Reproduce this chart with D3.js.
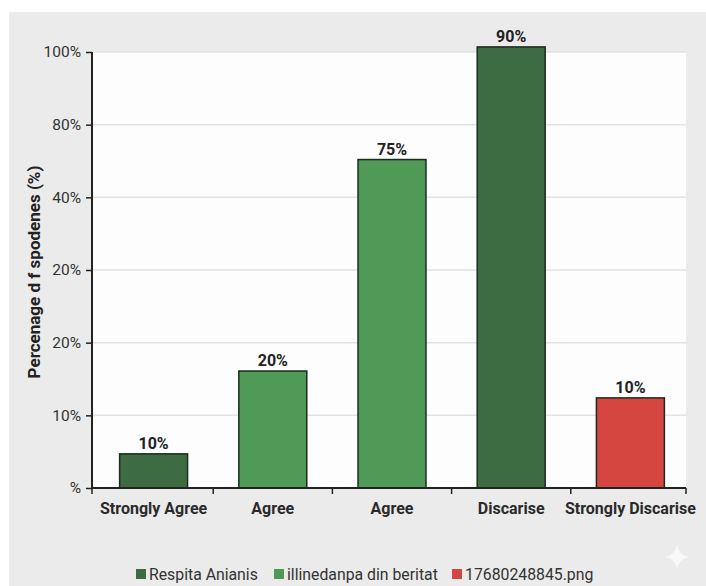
<!DOCTYPE html>
<html>
<head>
<meta charset="utf-8">
<script src="https://cdn.jsdelivr.net/npm/d3@7"></script>
<style>
  html, body { margin: 0; padding: 0; background: #ffffff; }
  svg { display: block; }
  text { font-family: Roboto, "Noto Sans", sans-serif; }
</style>
</head>
<body>
<svg id="chart" width="706" height="586"></svg>
<script>
// ---- data ----
const categories = ["Strongly Agree", "Agree", "Agree", "Discarise", "Strongly Discarise"];
// bar heights measured in axis-tick units (the axis ticks are evenly spaced)
const barValues = [0.47, 1.61, 4.52, 6.07, 1.24];
const barLabels = ["10%", "20%", "75%", "90%", "10%"];
const barSeries = [0, 1, 1, 0, 2];
const yTickLabels = ["%", "10%", "20%", "20%", "40%", "80%", "100%"];
const seriesNames = ["Respita Anianis", "illinedanpa din beritat", "17680248845.png"];
const seriesColors = ["#3d6c42", "#4f9a57", "#d4463f"];
const yAxisTitle = "Percenage d f spodenes (%)";

const svg = d3.select("#chart");
const W = 706, H = 586;

// background panels
svg.append("rect").attr("x", 0).attr("y", 0).attr("width", W).attr("height", H).attr("fill", "#ffffff");
svg.append("rect").attr("x", 9).attr("y", 12).attr("width", W - 9).attr("height", H - 12).attr("fill", "#ebebeb");

const plot = { left: 92, right: 686, top: 52, bottom: 488 };
svg.append("rect").attr("x", plot.left).attr("y", plot.top)
  .attr("width", plot.right - plot.left).attr("height", plot.bottom - plot.top)
  .attr("fill", "#fdfdfd");

const y = d3.scaleLinear().domain([0, yTickLabels.length - 1]).range([plot.bottom, plot.top]);
const x = d3.scaleBand().domain(d3.range(categories.length)).range([94, 690]).paddingInner(0.43).paddingOuter(0.215);

// gridlines
svg.append("g").selectAll("line").data(d3.range(1, yTickLabels.length)).join("line")
  .attr("x1", plot.left).attr("x2", plot.right)
  .attr("y1", d => y(d)).attr("y2", d => y(d))
  .attr("stroke", "#e2e2e2").attr("stroke-width", 1.5);

// y axis
const yAxis = d3.axisLeft(y).tickValues(d3.range(yTickLabels.length))
  .tickFormat(d => yTickLabels[d]).tickSize(6).tickPadding(5);
const gy = svg.append("g").attr("transform", `translate(${plot.left},0)`).call(yAxis);
gy.attr("font-size", null).attr("font-family", null);
gy.select(".domain").attr("stroke", "#222").attr("stroke-width", 2).attr("d", `M0,${plot.top}V${plot.bottom}`);
gy.selectAll(".tick line").attr("stroke", "#222").attr("stroke-width", 1.5);
gy.selectAll(".tick text").attr("fill", "#333")
  .style("font-size", "15.5px")
  .style("font-family", "Roboto, sans-serif");

// bars
svg.append("g").selectAll("rect").data(barValues).join("rect")
  .attr("x", (d, i) => x(i))
  .attr("y", d => y(d))
  .attr("width", x.bandwidth())
  .attr("height", d => y(0) - y(d))
  .attr("fill", (d, i) => seriesColors[barSeries[i]])
  .attr("stroke", "#1e2a1f").attr("stroke-width", 1.5);

// value labels
svg.append("g").selectAll("text").data(barValues).join("text")
  .attr("x", (d, i) => x(i) + x.bandwidth() / 2)
  .attr("y", d => y(d) - 5)
  .attr("text-anchor", "middle")
  .style("font-size", "16px").attr("font-weight", "bold").attr("fill", "#222")
  .text((d, i) => barLabels[i]);

// x axis
const xAxisG = svg.append("g").attr("transform", `translate(0,${plot.bottom})`);
xAxisG.append("line").attr("x1", plot.left).attr("x2", 686).attr("y1", 0).attr("y2", 0)
  .attr("stroke", "#222").attr("stroke-width", 2);
const boundaries = [plot.left, ...d3.range(1, categories.length).map(i => x(i) - x.step() * x.paddingInner() / 2), 686];
xAxisG.selectAll("line.tk").data(boundaries).join("line").attr("class", "tk")
  .attr("x1", d => d).attr("x2", d => d).attr("y1", 0).attr("y2", 6)
  .attr("stroke", "#222").attr("stroke-width", 1.5);
xAxisG.selectAll("text").data(categories).join("text")
  .attr("x", (d, i) => x(i) + x.bandwidth() / 2)
  .attr("y", 26)
  .attr("text-anchor", "middle")
  .style("font-size", "16px").attr("font-weight", "bold").attr("fill", "#2a2a2a")
  .text(d => d);

// y axis title
svg.append("text")
  .attr("transform", `translate(40,${(plot.top + plot.bottom) / 2 + 2}) rotate(-90)`)
  .attr("text-anchor", "middle")
  .style("font-size", "17px").attr("font-weight", "bold").attr("fill", "#222")
  .text(yAxisTitle);

// legend
const legendX = [136, 274, 452];
const lg = svg.append("g");
seriesNames.forEach((name, i) => {
  lg.append("rect").attr("x", legendX[i]).attr("y", 569).attr("width", 10).attr("height", 10)
    .attr("fill", seriesColors[i]);
  lg.append("text").attr("x", legendX[i] + 13).attr("y", 580)
    .style("font-size", "15.8px").attr("fill", "#333").text(name);
});

// faint sparkle mark in corner
svg.append("path")
  .attr("d", "M677,545 Q679,555 689,557 Q679,559 677,569 Q675,559 665,557 Q675,555 677,545Z")
  .attr("fill", "#f8f8f8");
</script>
</body>
</html>
